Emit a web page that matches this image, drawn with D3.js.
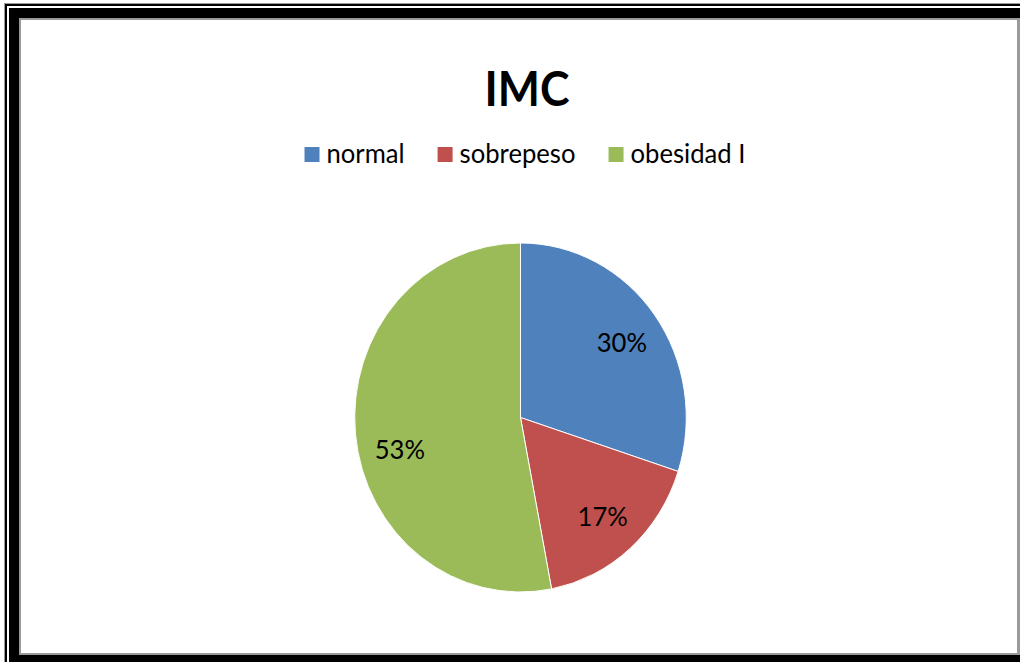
<!DOCTYPE html>
<html>
<head>
<meta charset="utf-8">
<script src="https://cdn.jsdelivr.net/npm/d3@7"></script>
<style>
  html, body { margin: 0; padding: 0; background: #fff; }
  svg { display: block; }
</style>
</head>
<body>
<div id="chart"></div>
<script>
// chart data
var categories = ['normal', 'sobrepeso', 'obesidad I'];
var values = [30, 17, 53];
var labels = ['30%', '17%', '53%'];
var colors = ['#4F81BD', '#C0504D', '#9BBB59'];
var title = 'IMC';

var W = 1020, H = 662;
var sx = 0.95; // picture is a little squeezed sideways

var svg = d3.select('#chart').append('svg').attr('width', W).attr('height', H);

// --- frame ---
var frame = svg.append('g');
frame.append('rect').attr('x', 0).attr('y', 0).attr('width', W).attr('height', H).attr('fill', '#fff');
// thin outer lines
frame.append('rect').attr('x', 4).attr('y', 3).attr('width', W).attr('height', 1).attr('fill', '#999');
frame.append('rect').attr('x', 4).attr('y', 3).attr('width', 1).attr('height', H).attr('fill', '#999');
frame.append('rect').attr('x', 5).attr('y', 4).attr('width', W).attr('height', 2).attr('fill', '#000');
frame.append('rect').attr('x', 5).attr('y', 4).attr('width', 2).attr('height', H).attr('fill', '#000');
// thick black frame
frame.append('rect').attr('x', 9).attr('y', 8).attr('width', W).attr('height', H).attr('fill', '#000');
frame.append('rect').attr('x', 19).attr('y', 18).attr('width', 1001).attr('height', 637).attr('fill', '#9a9a9a');
frame.append('rect').attr('x', 21).attr('y', 20).attr('width', 996).attr('height', 633).attr('fill', '#fff');

// --- title ---
svg.append('text')
  .attr('transform', 'translate(527,106) scale(' + sx + ',1)')
  .attr('text-anchor', 'middle')
  .attr('font-family', 'Lato, "Open Sans", sans-serif')
  .attr('font-weight', 700)
  .attr('font-size', 47)
  .attr('fill', '#000')
  .text(title);

// --- legend ---
var legFont = 27, sq = 15, gap = 7, spacing = 33;
var legend = svg.append('g');
var items = legend.selectAll('g').data(categories).join('g');
items.append('rect')
  .attr('width', sq).attr('height', sq)
  .attr('y', -sq)
  .attr('fill', function(d, i) { return colors[i]; });
var itemText = items.append('text')
  .attr('font-family', 'Lato, "Open Sans", sans-serif')
  .attr('font-size', legFont)
  .attr('fill', '#000')
  .text(function(d) { return d; });
var widths = [];
itemText.each(function() { widths.push(this.getComputedTextLength() * sx); });
var total = 0;
widths.forEach(function(w, i) { total += sq + gap + w + (i < widths.length - 1 ? spacing : 0); });
var x0 = 525 - total / 2, offs = [];
widths.forEach(function(w) { offs.push(x0); x0 += sq + gap + w + spacing; });
items.attr('transform', function(d, i) { return 'translate(' + offs[i] + ',162)'; });
itemText.attr('transform', 'translate(' + (sq + gap) + ',1) scale(' + sx + ',1)');

// --- pie ---
var cx = 520.5, cy = 417.5, r = 174.5;
var pie = d3.pie().sort(null).value(function(d) { return d; });
var arc = d3.arc().innerRadius(0).outerRadius(r);
var arcs = pie(values);

var pg = svg.append('g').attr('transform', 'translate(' + cx + ',' + cy + ') scale(' + sx + ',1)');
pg.selectAll('path').data(arcs).join('path')
  .attr('d', arc)
  .attr('fill', function(d, i) { return colors[i]; })
  .attr('stroke', '#fff')
  .attr('stroke-width', 1);

// percent labels, "best fit" placement: a bit off the mid angle like Excel does
var nudge = [0.01, 0, -0.15]; // radians, layout only
function labelPos(d, i) {
  var a = (d.startAngle + d.endAngle) / 2 + nudge[i];
  var rr = r * 0.75;
  return [cx + Math.sin(a) * rr * sx, cy - Math.cos(a) * rr];
}
svg.append('g').selectAll('text').data(arcs).join('text')
  .attr('transform', function(d, i) {
    var p = labelPos(d, i);
    return 'translate(' + p[0] + ',' + (p[1] + 10) + ') scale(' + sx + ',1)';
  })
  .attr('text-anchor', 'middle')
  .attr('font-family', 'Lato, "Open Sans", sans-serif')
  .attr('font-size', legFont)
  .attr('fill', '#000')
  .text(function(d, i) { return labels[i]; });
</script>
</body>
</html>
